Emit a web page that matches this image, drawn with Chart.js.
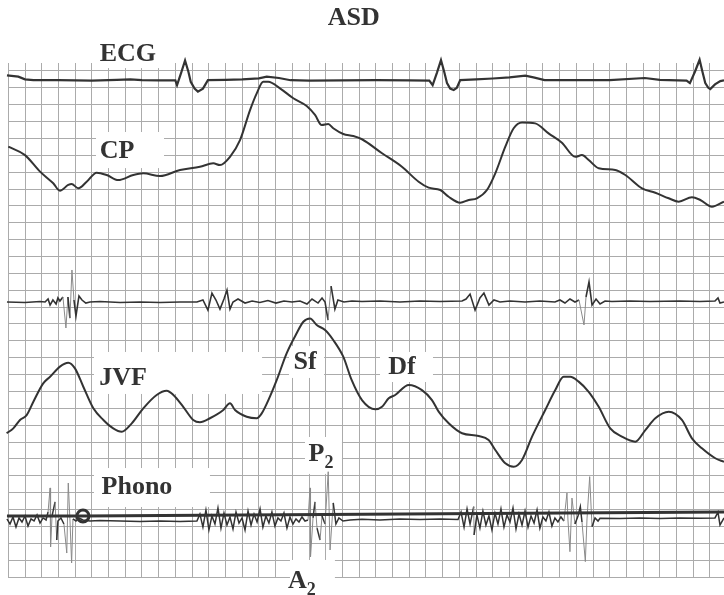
<!DOCTYPE html>
<html><head><meta charset="utf-8">
<script src="https://cdn.jsdelivr.net/npm/chart.js@4/dist/chart.umd.min.js"></script>
<style>html,body{margin:0;padding:0;background:#fff}#wrap{width:724px;height:595px;position:relative}</style>
</head><body><div id="wrap"><canvas id="c"></canvas></div>
<script>
// Units: x and y in paper-grid divisions (1 division = one large square)
const gridX = [0,1,2,3,4,5,6,7,8,9,10,11,12,13,14,15,16,17,18,19,20,21,22,23,24,25,26,27,28,29,30,31,32,33,34,35,36,37,38,39,40,41,42];
const gridY = [0,1,2,3,4,5,6,7,8,9,10,11,12,13,14,15,16,17,18,19,20,21,22,23,24,25,26,27,28,29,30];

const ecgT = [-0.08,0.6,1.0,1.5,3,5,6.5,7.3,8,9,10.0,10.1,10.35,10.58,10.78,10.92,11.15,11.35,11.65,11.95,13,14,15,15.47,16.2,16.9,18,20,22,24,25.2,25.4,25.66,25.9,26.08,26.26,26.45,26.66,26.85,27.05,28,29,30,30.95,31.5,32.1,34,36,38.1,39,40.6,40.8,41.1,41.38,41.55,41.72,41.9,42.02,42.3,42.62,42.84];
const ecgV = [29.74,29.66,29.50,29.45,29.45,29.43,29.47,29.50,29.45,29.44,29.44,29.16,29.90,30.62,29.95,29.36,28.95,28.77,28.95,29.45,29.47,29.50,29.56,29.66,29.58,29.45,29.43,29.44,29.45,29.44,29.43,29.16,29.90,30.64,30.0,29.28,28.95,28.87,29.0,29.46,29.50,29.55,29.62,29.72,29.60,29.46,29.45,29.45,29.58,29.47,29.43,29.28,29.95,30.66,29.95,29.28,29.0,28.92,29.2,29.40,29.44];

const cpT = [0,1.0,1.9,2.69,3.09,3.59,3.79,4.19,4.69,5.29,5.89,6.58,7.48,8.08,9.08,10.28,11.47,12.27,12.67,13.27,13.87,14.47,14.87,15.26,15.56,16.26,17.06,17.86,18.36,18.76,19.15,19.45,20.05,20.65,21.17,22.37,23.56,24.56,25.16,25.86,26.36,27.05,27.56,28.05,28.65,29.15,29.75,30.25,30.75,31.54,32.34,33.14,33.94,34.34,34.74,35.34,36.33,36.93,37.93,38.73,39.53,40.13,40.92,41.42,42.12,42.84];
const cpV = [25.51,25.01,24.03,23.34,22.90,23.24,23.30,23.04,23.43,23.97,23.83,23.53,23.83,23.93,23.77,24.13,24.32,24.52,24.42,24.91,25.90,27.68,28.67,29.36,29.36,28.97,28.38,27.92,27.39,26.79,26.85,26.60,26.26,26.14,25.95,25.12,24.32,23.43,23.08,22.94,22.54,22.19,22.35,22.45,22.94,23.93,25.51,26.60,26.95,26.89,26.30,25.74,24.91,25.01,24.72,24.23,24.13,23.83,23.04,22.78,22.45,22.25,22.51,22.35,21.95,22.25];

const ph1T = [-0.08,1.00,1.90,2.20,2.38,2.50,2.67,2.86,2.97,3.09,3.27,3.45,3.57,3.69,3.81,3.93,4.05,4.23,4.41,4.64,4.89,5.49,6.69,7.88,9.08,10.28,11.29,11.65,11.95,12.19,12.43,12.67,12.91,13.09,13.27,13.45,13.75,14.17,14.59,15.06,15.54,16.02,16.50,16.98,17.46,17.88,18.18,18.54,18.78,18.96,19.14,19.32,19.55,19.73,20.09,20.57,21.17,22.25,23.44,24.64,25.84,27.16,27.40,27.64,27.94,28.23,28.47,28.77,29.07,29.43,30.03,30.93,31.82,32.72,33.02,33.32,33.62,33.92,34.16,34.46,34.58,34.76,34.94,35.18,35.42,35.72,36.13,37.21,38.41,40.20,41.40,42.30,42.48,42.60,42.84];
const ph1V = [16.30,16.27,16.33,16.30,16.48,16.12,16.42,16.18,16.54,16.36,16.60,14.76,16.60,15.35,18.20,16.42,15.47,16.66,16.42,16.24,16.30,16.33,16.27,16.30,16.27,16.30,16.30,16.42,15.82,16.83,16.42,15.88,16.48,17.01,15.88,16.30,16.48,16.24,16.36,16.27,16.39,16.24,16.36,16.30,16.36,16.18,16.48,16.24,16.54,16.30,15.23,17.25,15.88,16.42,16.30,16.36,16.33,16.36,16.30,16.36,16.33,16.36,16.48,16.77,15.82,16.54,16.83,16.12,16.42,16.30,16.36,16.30,16.36,16.30,16.42,16.24,16.48,16.30,16.42,14.94,16.60,17.49,16.12,16.48,16.18,16.36,16.33,16.36,16.33,16.36,16.33,16.36,16.54,16.24,16.30];

const jvfT = [-0.10,0.30,0.70,1.10,1.50,2.09,2.50,3.09,3.59,3.99,4.49,5.09,5.69,6.28,6.79,7.39,8.08,8.88,9.48,9.88,10.47,11.07,11.47,12.07,12.87,13.27,13.57,14.27,14.87,15.17,15.66,16.07,16.66,17.26,17.66,18.06,18.46,18.96,19.45,20.05,20.55,21.17,21.97,22.37,22.77,23.16,23.97,24.76,25.36,25.76,26.36,27.16,28.16,28.75,29.15,29.75,30.25,30.75,31.35,32.14,32.74,33.24,33.64,34.14,34.74,35.34,36.03,36.73,37.53,38.13,38.73,39.53,40.32,40.92,41.52,42.32,42.84];
const jvfV = [8.52,8.81,9.31,9.60,10.39,11.48,11.87,12.47,12.70,12.37,11.28,10.00,9.31,8.81,8.61,9.11,10.00,10.79,11.04,10.79,10.09,9.31,9.17,9.41,9.90,10.30,9.90,9.50,9.41,9.70,10.69,11.68,13.26,14.45,15.13,15.33,14.94,14.64,14.05,13.06,11.68,10.49,9.94,10.09,10.59,10.79,11.38,11.08,10.49,9.80,9.11,8.52,8.36,8.12,7.53,6.74,6.54,6.94,8.32,9.90,11.08,11.87,11.87,11.58,10.98,10.09,8.81,8.32,8.02,8.71,9.41,9.80,9.31,8.22,7.63,7.04,6.83];

const ph2T = [-0.08,0.10,0.28,0.46,0.64,0.82,1.00,1.18,1.36,1.54,1.72,1.90,2.08,2.26,2.38,2.50,2.53,2.62,2.80,2.90,2.97,3.15,3.33,3.50,3.59,3.69,3.79,3.87,4.05,4.23,4.47,4.89,5.49,6.69,7.88,9.08,10.28,11.29,11.47,11.65,11.83,12.01,12.19,12.37,12.55,12.73,12.91,13.09,13.27,13.45,13.63,13.81,13.99,14.17,14.35,14.53,14.71,14.89,15.07,15.24,15.42,15.60,15.78,15.96,16.14,16.32,16.50,16.68,16.86,17.04,17.22,17.40,17.58,17.76,17.94,18.06,18.09,18.24,18.36,18.48,18.66,18.78,18.96,19.15,19.26,19.45,19.61,19.79,20.03,20.45,21.17,22.25,23.44,24.64,25.84,26.92,27.10,27.28,27.46,27.64,27.86,27.88,28.05,28.23,28.41,28.59,28.77,28.95,29.13,29.31,29.49,29.67,29.85,30.03,30.21,30.39,30.57,30.75,30.93,31.11,31.29,31.47,31.65,31.82,32.00,32.18,32.36,32.54,32.72,32.90,33.08,33.26,33.44,33.50,33.62,33.74,33.92,34.10,34.24,34.34,34.54,34.64,34.80,34.94,35.12,35.30,35.42,36.61,37.81,39.01,40.20,41.40,42.30,42.48,42.60,42.84];
const ph2V = [3.44,3.14,3.56,2.96,3.50,3.26,3.62,3.02,3.44,3.32,3.68,3.20,3.50,3.38,3.85,5.28,1.78,3.62,4.45,2.19,3.32,3.50,3.14,1.42,5.57,3.38,0.83,3.44,3.32,3.50,3.38,3.32,3.35,3.32,3.29,3.32,3.29,3.32,3.73,2.96,3.97,2.79,3.62,3.14,4.09,2.90,3.79,3.08,3.56,2.85,3.85,3.20,3.50,2.79,3.91,3.08,3.73,3.26,4.03,2.96,3.62,3.20,3.85,3.02,3.50,3.32,3.79,2.90,3.56,3.14,3.44,3.26,3.56,3.32,3.38,5.28,1.19,3.50,4.45,2.90,2.19,3.62,3.14,6.24,1.60,4.39,3.14,3.50,3.32,3.38,3.42,3.38,3.44,3.41,3.44,3.41,3.85,2.96,4.03,3.14,4.17,2.49,3.68,2.90,3.91,3.08,3.62,2.79,3.79,3.14,4.03,2.96,3.68,3.26,4.09,2.85,3.73,3.08,3.91,2.96,3.62,3.20,3.97,2.90,3.56,3.32,3.85,3.02,3.50,3.26,3.56,3.32,4.98,3.38,1.50,4.68,3.14,3.62,4.17,3.26,0.91,3.44,5.95,2.98,3.50,3.32,3.48,3.47,3.50,3.47,3.50,3.48,3.50,3.85,3.08,3.50];

// reference (marker) line under the phono trace, with its ring
const refT = [-0.08,4.47,42.84];
const refV = [3.62,3.62,3.85];
const refRing = [0,6,0];

// text labels: [text, subscript, x, y]
const labels = [
  ['ECG','',7.16,31.0],['CP','',6.51,25.25],['JVF','',6.87,11.80],['Sf','',17.76,12.74],
  ['Df','',23.56,12.45],['Phono','',7.70,5.33],['P','2',18.45,7.29],['A','2',17.30,-0.24]
];
// white paste-up boxes behind labels: [x1,y1,x2,y2]
const boxes = [
  [5.19,31.83,9.38,30.17],[5.25,26.38,9.32,24.24],[5.13,13.34,15.19,10.85],[16.80,13.69,18.90,11.80],
  [22.25,13.34,25.42,11.56],[5.13,6.46,12.07,4.15],[17.76,8.30,19.97,6.11],[16.86,1.01,19.55,-1.07]
];
const title = ['ASD',20.68,33.11];

const zip = (t,v) => t.map((x,i)=>({x, y:v[i]}));
const ink = '#333333';
const FONT = '"Liberation Serif","Times New Roman",serif';

const paste = {
  id:'paste',
  beforeDatasetsDraw(chart){
    const {ctx, scales:{x,y}} = chart;
    ctx.save(); ctx.fillStyle='#ffffff';
    boxes.forEach(b=>{
      const x1=x.getPixelForValue(b[0]), x2=x.getPixelForValue(b[2]);
      const y1=y.getPixelForValue(b[1]), y2=y.getPixelForValue(b[3]);
      ctx.fillRect(x1,y1,x2-x1,y2-y1);
    });
    ctx.restore();
  },
  afterDatasetsDraw(chart){
    const {ctx, scales:{x,y}} = chart;
    ctx.save(); ctx.fillStyle=ink; ctx.textBaseline='middle';
    ctx.font='bold 26px '+FONT; ctx.textAlign='center';
    ctx.fillText(title[0], x.getPixelForValue(title[1]), y.getPixelForValue(title[2]));
    labels.forEach(l=>{
      const px=x.getPixelForValue(l[2]), py=y.getPixelForValue(l[3]);
      ctx.font='bold 26px '+FONT;
      if(!l[1]){ ctx.textAlign='center'; ctx.fillText(l[0],px,py); }
      else {
        ctx.textAlign='left';
        const w=ctx.measureText(l[0]).width;
        ctx.fillText(l[0],px-w/2,py);
        ctx.font='bold 18px '+FONT;
        ctx.fillText(l[1],px+w/2,py+9);
      }
    });
    ctx.restore();
  }
};

const trace = (data, w, smooth) => Object.assign({data, borderColor:ink, borderWidth:w, pointRadius:0, tension:0, clip:false, fill:false},
  smooth ? {cubicInterpolationMode:'monotone'} : {});
// phono: tall needle strokes are faint thin pencil marks in the original
const needle = {
  borderColor: c => Math.abs(c.p1.y - c.p0.y) > 24 ? '#8a8a8a' : undefined,
  borderWidth: c => Math.abs(c.p1.y - c.p0.y) > 24 ? 1 : undefined
};

new Chart(document.getElementById('c'), {
  type:'line',
  data:{datasets:[
    trace(zip(ecgT,ecgV),2.2,false),
    trace(zip(cpT,cpV),2,true),
    Object.assign(trace(zip(ph1T,ph1V),1.6,false),{segment:needle}),
    trace(zip(jvfT,jvfV),2,true),
    Object.assign(trace(zip(refT,refV),3,false),{pointRadius:refRing,pointBackgroundColor:'rgba(255,255,255,0)',pointBorderColor:ink,pointBorderWidth:3}),
    Object.assign(trace(zip(ph2T,ph2V),1.5,false),{segment:needle})
  ]},
  options:{
    responsive:true, maintainAspectRatio:false, animation:false,
    layout:{padding:{left:8.3,right:0,top:63,bottom:18}},
    plugins:{legend:{display:false},tooltip:{enabled:false},title:{display:false}},
    scales:{
      x:{type:'linear',min:0,max:42.84,ticks:{display:false},border:{display:false},
         grid:{color:'#ababab',lineWidth:1,drawTicks:false},
         afterBuildTicks:s=>{s.ticks=gridX.map(v=>({value:v}));}},
      y:{type:'linear',min:0,max:30.47,ticks:{display:false},border:{display:false},
         grid:{color:'#ababab',lineWidth:1,drawTicks:false},
         afterBuildTicks:s=>{s.ticks=gridY.map(v=>({value:v}));}}
    }
  },
  plugins:[paste]
});
</script></body></html>
